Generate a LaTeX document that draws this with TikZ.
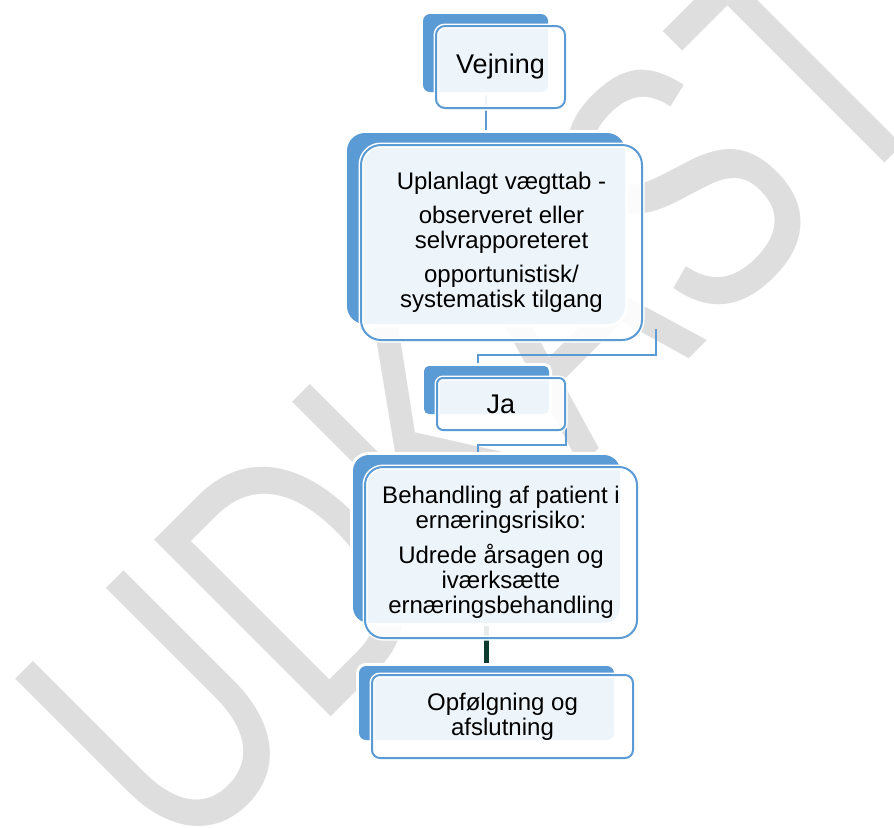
\documentclass[tikz,border=0pt]{standalone}
\usepackage{fontspec}
\setmainfont{Liberation Sans}
\usepackage{graphicx}
\usetikzlibrary{backgrounds}

\definecolor{boxblue}{RGB}{91,155,213}
\definecolor{darklink}{RGB}{12,60,46}
\definecolor{markgray}{RGB}{222,222,222}

\tikzset{
  backbox/.style={fill=boxblue, preaction={draw=white, line width=3pt}, inner sep=0pt},
  frontbox/.style={draw=boxblue, line width=1pt, fill=white, fill opacity=0.9, text opacity=1,
    preaction={draw=white, line width=2.5pt}, align=center, inner sep=0pt},
  link/.style={draw=boxblue, line width=1pt},
  bodytext/.style={font=\fontsize{12}{12.5}\selectfont},
  titletext/.style={font=\fontsize{13.5}{14}\selectfont}
}

\begin{document}
\begin{tikzpicture}[x=0.5pt, y=-0.5pt]
\useasboundingbox (0,0) rectangle (894,827);

% Weighing
\node[backbox, minimum width=62.5pt, minimum height=39pt, rounded corners=3.5pt] (vejningBack) at (485.5,53) {};
\node[frontbox, titletext, minimum width=64.5pt, minimum height=41pt, rounded corners=4.5pt] (vejning) at (500.5,67) {Vejning};

% Unplanned weight loss
\node[backbox, minimum width=139pt, minimum height=95.5pt, rounded corners=9pt] (planBack) at (486,228.5) {};
\node[frontbox, bodytext, minimum width=140.5pt, minimum height=97.5pt, rounded corners=10pt] (plan) at (501.5,242.5)
  {Uplanlagt vægttab -\\[4.5pt] observeret eller\\ selvrapporeteret\\[4.5pt] opportunistisk/\\ systematisk tilgang};

% Yes
\node[backbox, minimum width=62.5pt, minimum height=24pt, rounded corners=2.5pt] (jaBack) at (486.5,390) {};
\node[frontbox, titletext, minimum width=64pt, minimum height=26pt, rounded corners=3pt] (ja) at (501,404) {Ja};

% Treatment
\node[backbox, minimum width=133.5pt, minimum height=84pt, rounded corners=8pt] (behandlingBack) at (486.5,539) {};
\node[frontbox, bodytext, minimum width=136pt, minimum height=85.5pt, rounded corners=9pt] (behandling) at (501,552.5)
  {Behandling af patient i\\ ernæringsrisiko:\\[5pt] Udrede årsagen og\\ iværksætte\\ ernæringsbehandling};

% Follow-up
\node[backbox, minimum width=127.5pt, minimum height=37pt, rounded corners=3.5pt] (opfBack) at (486.5,703) {};
\node[frontbox, bodytext, minimum width=130.5pt, minimum height=41.5pt, rounded corners=4pt] (opf) at (502.5,716.5)
  {Opfølgning og\\ afslutning};

\begin{pgfonlayer}{background}
% Watermark
\node[rotate=45, text=markgray, inner sep=0pt, font=\fontsize{135}{135}\selectfont] (mark) at (476.4,394.6)
  {\scalebox{1}[1.345]{UDKAST}};

% Connectors
\draw[link] (vejningBack.south) -- (vejningBack.south |- planBack.north);
\draw[link] ([shift={(6.5pt,6pt)}]plan.south east) |- ([shift={(-4.5pt,5.5pt)}]jaBack.north) -- ([xshift=-4.5pt]jaBack.north);
\draw[link] ([yshift=6.5pt]ja.south east) |- ([shift={(-4.5pt,5pt)}]behandlingBack.north) -- ([xshift=-4.5pt]behandlingBack.north);
\draw[darklink, line width=2.5pt, shorten >=1.5pt] (behandlingBack.south) -- (behandlingBack.south |- opfBack.north);
\end{pgfonlayer}

\end{tikzpicture}
\end{document}
